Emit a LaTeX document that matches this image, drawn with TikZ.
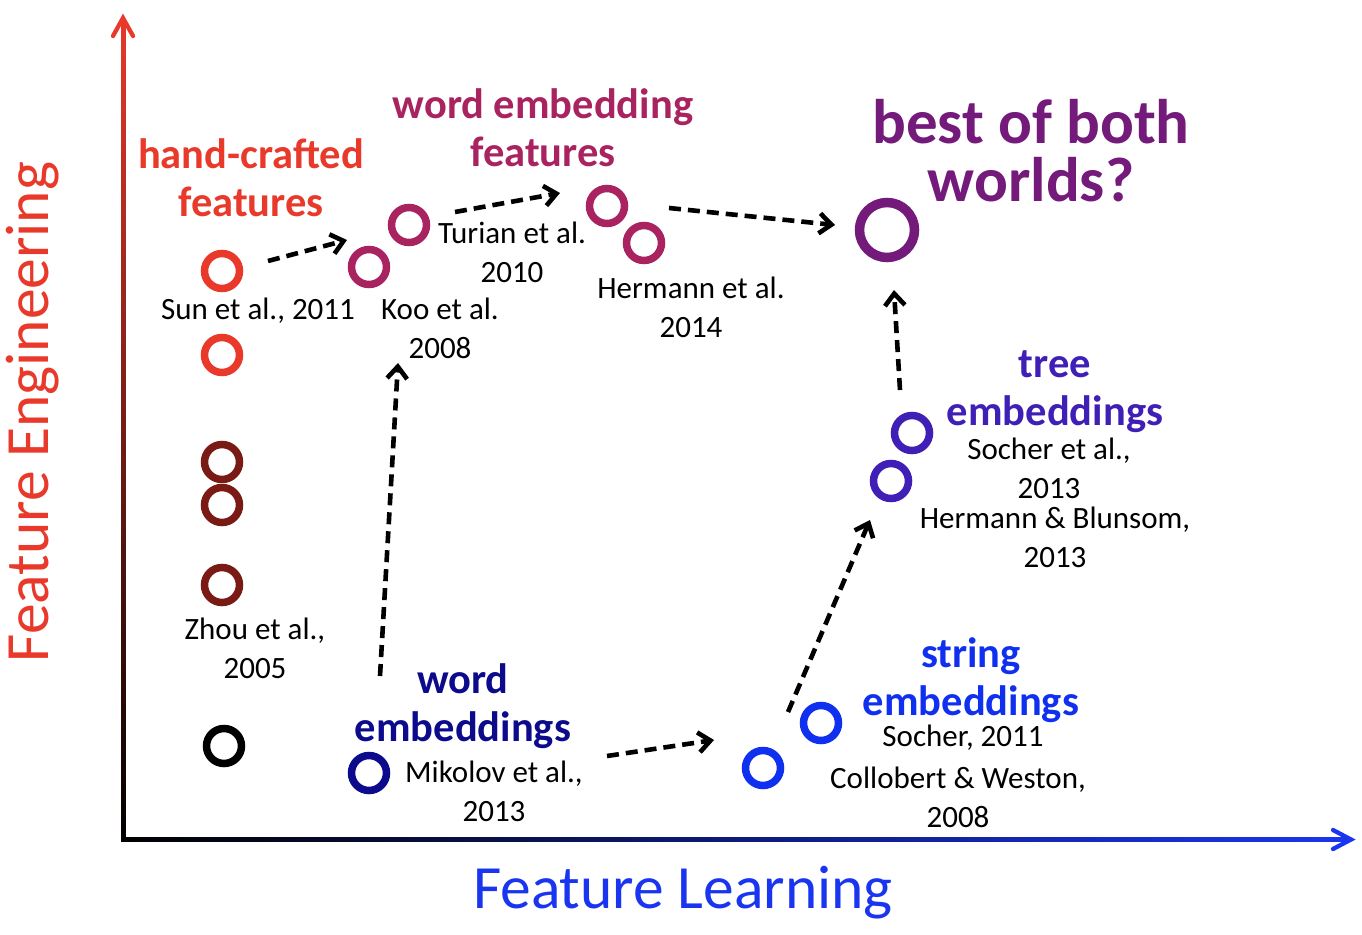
\documentclass[tikz,border=0pt]{standalone}
\usepackage{fontspec}
\setmainfont{Carlito}
\usetikzlibrary{arrows.meta}
\definecolor{cred}{HTML}{E8392A}
\definecolor{cdred}{HTML}{7A1A14}
\definecolor{cmag}{HTML}{A8235F}
\definecolor{cpur}{HTML}{741A7B}
\definecolor{cind}{HTML}{3F1FB5}
\definecolor{cblue}{HTML}{1030F0}
\definecolor{cnavy}{HTML}{0B0B8C}
\definecolor{axblue}{HTML}{1A35F0}
\tikzset{
  ring/.style={circle, draw, line width=7.5pt, minimum size=35pt, inner sep=0pt},
  bigring/.style={circle, draw, line width=9.5pt, minimum size=55pt, inner sep=0pt},
  lbl/.style={font=\fontsize{31}{39}\selectfont, align=center, inner sep=0pt, text=black},
  hd/.style={font=\fontsize{42.5}{48}\selectfont\bfseries, align=center, inner sep=0pt},
  flow/.style={draw=black, line width=4.6pt, dash pattern=on 12pt off 7pt,
    -{Straight Barb[length=12pt,width=20pt,line width=4.6pt]}},
  axhead/.style={line width=4.3pt, line cap=round, line join=miter},
}
\begin{document}
\begin{tikzpicture}[x=1pt,y=-1pt]
\useasboundingbox (0,0) rectangle (1362,934);
% axes
\shade[bottom color=black, top color=cred] (121,841) rectangle (125.3,19);
\shade[left color=black, right color=axblue] (121,837.3) rectangle (1349,841.7);
\draw[axhead, cred] (113,36) -- (123,18) -- (133,36);
\draw[axhead, axblue] (1333,830) -- (1351,839.5) -- (1333,849);
\node[font=\fontsize{61.5}{62}\selectfont, text=axblue, inner sep=0pt] (xl) at (683,893) {Feature Learning};
\node[font=\fontsize{61.5}{62}\selectfont, text=cred, inner sep=0pt, rotate=90] (yl) at (33,412) {Feature Engineering};
% circles
\node[ring, draw=cred] (sun) at (222,271) {};
\node[ring, draw=cred] (r2) at (222,355) {};
\node[ring, draw=cdred] (r3) at (222,462) {};
\node[ring, draw=cdred] (r4) at (222,505) {};
\node[ring, draw=cdred] (zhou) at (222,585) {};
\node[ring, draw=black] (k1) at (224,746) {};
\node[ring, draw=cmag] (koo) at (369,267) {};
\node[ring, draw=cmag] (turian) at (409,225) {};
\node[ring, draw=cmag] (m3) at (607,206) {};
\node[ring, draw=cmag] (herm) at (644,243) {};
\node[bigring, draw=cpur] (best) at (887,230) {};
\node[ring, draw=cind] (socher13) at (912,433) {};
\node[ring, draw=cind] (hb) at (891,481) {};
\node[ring, draw=cnavy] (mik) at (369,773) {};
\node[ring, draw=cblue] (coll) at (763,768) {};
\node[ring, draw=cblue] (soch11) at (821,723) {};
% headings
\node[hd, text=cred] (hhand) at (251,178) {hand-crafted\\features};
\node[hd, text=cmag] (hwef) at (543,128) {word embedding\\features};
\node[font=\fontsize{63}{58}\selectfont\bfseries, align=center, inner sep=0pt, text=cpur] (hbest) at (1031,151) {best of both\\worlds?};
\node[hd, text=cind] (htree) at (1055,392) {tree\\embeddings};
\node[hd, text=cblue] (hstr) at (971,680) {string\\embeddings};
\node[hd, text=cnavy] (hword) at (463,706) {word\\embeddings};
% labels
\node[lbl] (lsun) at (258,311) {Sun et al., 2011};
\node[lbl] (lkoo) at (440,328) {Koo et al.\\2008};
\node[lbl] (ltur) at (512,252) {Turian et al.\\2010};
\node[lbl] (lherm) at (691,307) {Hermann et al.\\2014};
\node[lbl] (lsoc13) at (1049,468) {Socher et al.,\\2013};
\node[lbl] (lhb) at (1055,537) {Hermann \& Blunsom,\\2013};
\node[lbl] (lzhou) at (255,648) {Zhou et al.,\\2005};
\node[lbl] (lmik) at (494,791) {Mikolov et al.,\\2013};
\node[lbl] (lsoc11) at (963,738) {Socher, 2011};
\node[lbl] (lcoll) at (958,797) {Collobert \& Weston,\\2008};
% arrow end points
\coordinate (a1s) at (268,261); \coordinate (a1e) at (347,240);
\coordinate (a2s) at (455,212); \coordinate (a2e) at (560,193);
\coordinate (a3s) at (669,208); \coordinate (a3e) at (835,225);
\coordinate (a4s) at (380,676); \coordinate (a4e) at (398,363);
\coordinate (a5s) at (607,756); \coordinate (a5e) at (714,740);
\coordinate (a6s) at (788,712); \coordinate (a6e) at (870,520);
\coordinate (a7s) at (900,390); \coordinate (a7e) at (894,290);
\draw[flow] (a1s) -- (a1e);
\draw[flow] (a2s) -- (a2e);
\draw[flow] (a3s) -- (a3e);
\draw[flow] (a4s) -- (a4e);
\draw[flow] (a5s) -- (a5e);
\draw[flow] (a6s) -- (a6e);
\draw[flow] (a7s) -- (a7e);
\end{tikzpicture}
\end{document}
